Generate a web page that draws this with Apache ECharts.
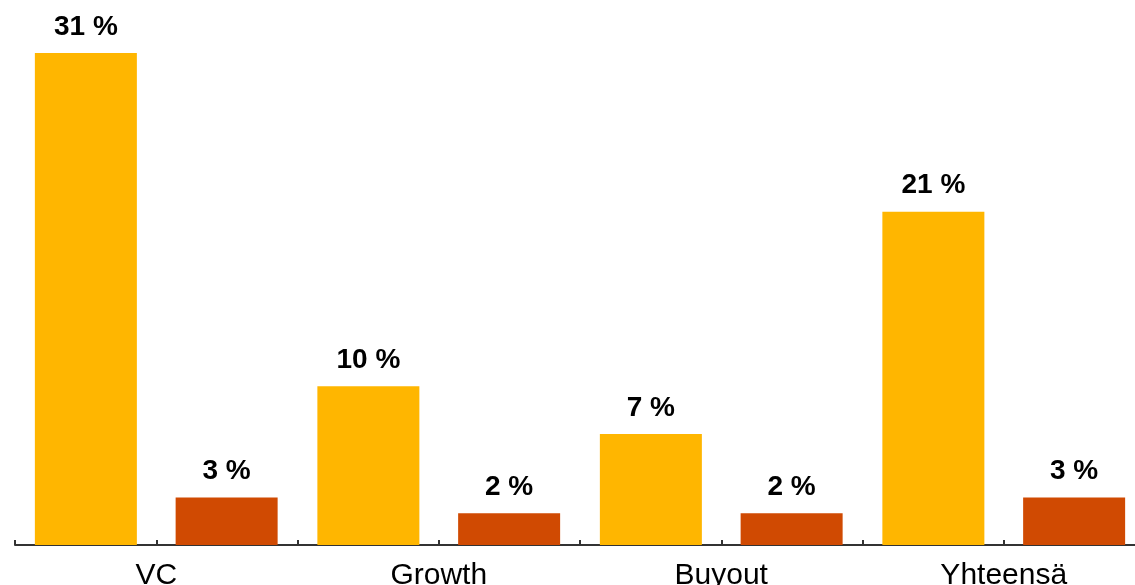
<!DOCTYPE html>
<html>
<head>
<meta charset="utf-8">
<script src="https://cdn.jsdelivr.net/npm/echarts@6/dist/echarts.min.js"></script>
<style>
  html, body { margin: 0; padding: 0; background: #fff; }
  #chart { width: 1135px; height: 585px; }
</style>
</head>
<body>
<div id="chart"></div>
<script>
// Categories along the x axis
const categories = ['VC', 'Growth', 'Buyout', 'Yhteensä'];
// First series (yellow bars), percent
const seriesA = [31, 10, 7, 21];
// Second series (orange-red bars), percent
const seriesB = [3, 2, 2, 3];

// One tick slot per bar: two bars in each category
const tickSlots = categories.flatMap(() => ['', '']);

const font = '"Liberation Sans", Arial, Helvetica, sans-serif';

const labelStyle = {
  show: true,
  position: 'top',
  distance: 12,
  formatter: '{c} %',
  fontFamily: font,
  fontSize: 28,
  fontWeight: 'bold',
  color: '#000'
};

const chart = echarts.init(document.getElementById('chart'), null, { renderer: 'canvas' });

chart.setOption({
  animation: false,
  grid: {
    left: 15, right: -10, top: 53, bottom: 40,
    containLabel: false,
    outerBoundsMode: 'none'
  },
  xAxis: [
    {
      type: 'category',
      data: categories,
      position: 'bottom',
      axisLine: { show: true, lineStyle: { color: '#333', width: 2 } },
      axisTick: { show: false },
      axisLabel: {
        show: true,
        margin: 16,
        fontFamily: font,
        fontSize: 30,
        color: '#000'
      },
      splitLine: { show: false }
    },
    {
      type: 'category',
      data: tickSlots,
      position: 'bottom',
      axisLine: { show: false },
      axisTick: { show: true, inside: true, length: 5, lineStyle: { color: '#333', width: 2 } },
      axisLabel: { show: false },
      splitLine: { show: false }
    }
  ],
  yAxis: {
    type: 'value',
    min: 0,
    max: 31,
    show: false,
    splitLine: { show: false }
  },
  series: [
    {
      type: 'bar',
      xAxisIndex: 0,
      data: seriesA,
      barWidth: 102,
      barGap: '38%',
      itemStyle: { color: '#FFB600' },
      label: labelStyle
    },
    {
      type: 'bar',
      xAxisIndex: 0,
      data: seriesB,
      barWidth: 102,
      barGap: '38%',
      itemStyle: { color: '#D04A02' },
      label: labelStyle
    }
  ]
});
</script>
</body>
</html>
